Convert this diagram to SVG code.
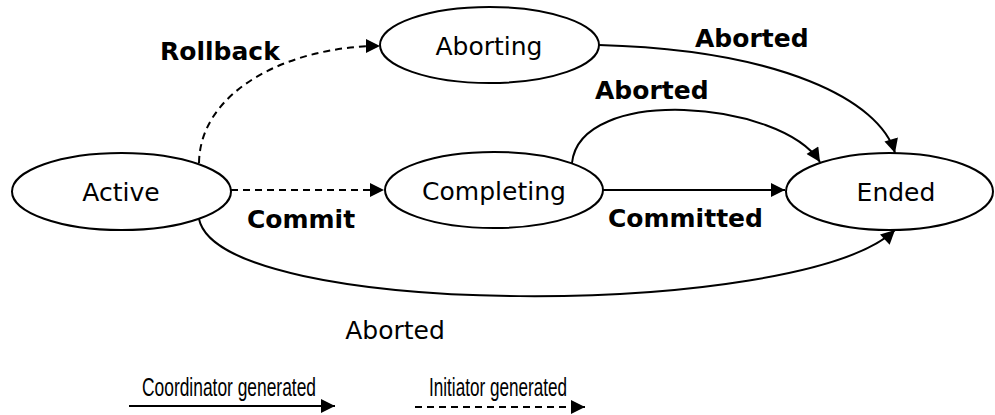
<svg xmlns="http://www.w3.org/2000/svg" width="995" height="415" viewBox="0 0 995 415">
<defs>
<marker id="ah" viewBox="0 0 10 10" refX="10" refY="5" markerWidth="15" markerHeight="14" markerUnits="userSpaceOnUse" orient="auto"><path d="M0,0 L10,5 L0,10 z" fill="#000"/></marker>
<style>
.st{fill:#fff;stroke:#000;stroke-width:2}
.nl{font-family:"DejaVu Sans",Verdana,sans-serif;font-size:25px;text-anchor:middle;fill:#000}
.bl{font-family:"DejaVu Sans",Verdana,sans-serif;font-size:25px;font-weight:bold;fill:#000}
.lg{font-family:"Liberation Sans",Arial,sans-serif;font-size:25px;fill:#000}
.c{fill:none;stroke:#000;stroke-width:2;marker-end:url(#ah)}
.d{stroke-dasharray:7,5}
</style>
</defs>
<g id="connectors">
<path class="c d" d="M199,163 C200,90 290,46 380,46"/>
<path class="c d" d="M231,190 L384,190"/>
<path class="c" d="M599,45 C780,50 880,100 895,153"/>
<path class="c" d="M572,163 C580,85 780,100 820,162"/>
<path class="c" d="M603,190 L785,190"/>
<path class="c" d="M199,219 C220,320 800,320 895,230"/>
</g>
<g id="active"><ellipse class="st" cx="121.5" cy="191.5" rx="109.5" ry="38.5"/><text class="nl" x="121" y="201">Active</text></g>
<g id="aborting"><ellipse class="st" cx="489.5" cy="45" rx="109.5" ry="38"/><text class="nl" x="489" y="55">Aborting</text></g>
<g id="completing"><ellipse class="st" cx="494" cy="190" rx="109" ry="38"/><text class="nl" x="494" y="200">Completing</text></g>
<g id="ended"><ellipse class="st" cx="889.5" cy="191.5" rx="103.5" ry="38.5"/><text class="nl" x="896" y="201">Ended</text></g>
<g id="labels">
<text class="bl" x="160" y="60">Rollback</text>
<text class="bl" x="695" y="47">Aborted</text>
<text class="bl" x="595" y="99">Aborted</text>
<text class="bl" x="247" y="228">Commit</text>
<text class="bl" x="608" y="227">Committed</text>
<text class="nl" x="395" y="339">Aborted</text>
</g>
<g id="legend">
<text class="lg" x="142" y="396" textLength="174" lengthAdjust="spacingAndGlyphs">Coordinator generated</text>
<path class="c" d="M129,406 L335,406"/>
<text class="lg" x="429" y="396" textLength="138" lengthAdjust="spacingAndGlyphs">Initiator generated</text>
<path class="c d" d="M415,407 L585,407"/>
</g>
</svg>
